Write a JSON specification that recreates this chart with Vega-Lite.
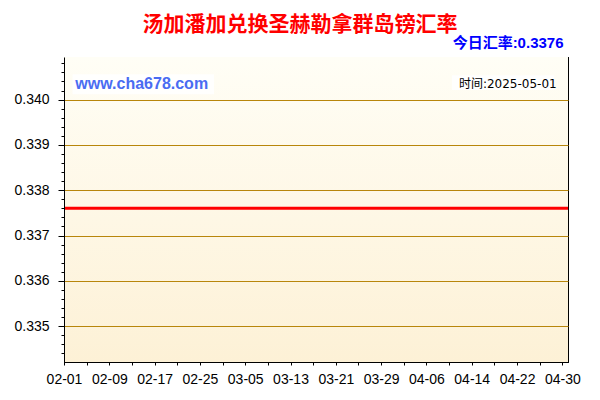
{
  "$schema": "https://vega.github.io/schema/vega-lite/v6.json",
  "width": 504,
  "height": 305,
  "autosize": {"type": "none"},
  "padding": {"left": 64, "top": 57, "right": 32, "bottom": 38},
  "background": "#FFFFFF",
  "title": {
    "text": "汤加潘加兑换圣赫勒拿群岛镑汇率",
    "anchor": "middle",
    "dx": -16,
    "offset": 0,
    "font": "Noto Sans CJK SC",
    "fontSize": 21,
    "fontWeight": "bold",
    "color": "#FF0000"
  },
  "datasets": {
    "frame": [
      {"start": "2025-02-01", "end": "2025-05-01", "low": 0.33421, "high": 0.34094}
    ],
    "boxes": [
      {"start": "2025-02-02T12:00:00Z", "end": "2025-02-27T12:00:00Z", "low": 0.34012, "high": 0.34056},
      {"start": "2025-04-10T12:00:00Z", "end": "2025-04-28T14:00:00Z", "low": 0.34021, "high": 0.34054}
    ],
    "notes": [
      {"kind": "site", "label": "www.cha678.com", "date": "2025-02-03", "value": 0.34034},
      {"kind": "time", "label": "时间:2025-05-01", "date": "2025-04-29", "value": 0.34034}
    ],
    "rate": [
      {"date": "2025-02-01", "rate": 0.3376}, {"date": "2025-02-02", "rate": 0.3376},
      {"date": "2025-02-03", "rate": 0.3376}, {"date": "2025-02-04", "rate": 0.3376},
      {"date": "2025-02-05", "rate": 0.3376}, {"date": "2025-02-06", "rate": 0.3376},
      {"date": "2025-02-07", "rate": 0.3376}, {"date": "2025-02-08", "rate": 0.3376},
      {"date": "2025-02-09", "rate": 0.3376}, {"date": "2025-02-10", "rate": 0.3376},
      {"date": "2025-02-11", "rate": 0.3376}, {"date": "2025-02-12", "rate": 0.3376},
      {"date": "2025-02-13", "rate": 0.3376}, {"date": "2025-02-14", "rate": 0.3376},
      {"date": "2025-02-15", "rate": 0.3376}, {"date": "2025-02-16", "rate": 0.3376},
      {"date": "2025-02-17", "rate": 0.3376}, {"date": "2025-02-18", "rate": 0.3376},
      {"date": "2025-02-19", "rate": 0.3376}, {"date": "2025-02-20", "rate": 0.3376},
      {"date": "2025-02-21", "rate": 0.3376}, {"date": "2025-02-22", "rate": 0.3376},
      {"date": "2025-02-23", "rate": 0.3376}, {"date": "2025-02-24", "rate": 0.3376},
      {"date": "2025-02-25", "rate": 0.3376}, {"date": "2025-02-26", "rate": 0.3376},
      {"date": "2025-02-27", "rate": 0.3376}, {"date": "2025-02-28", "rate": 0.3376},
      {"date": "2025-03-01", "rate": 0.3376}, {"date": "2025-03-02", "rate": 0.3376},
      {"date": "2025-03-03", "rate": 0.3376}, {"date": "2025-03-04", "rate": 0.3376},
      {"date": "2025-03-05", "rate": 0.3376}, {"date": "2025-03-06", "rate": 0.3376},
      {"date": "2025-03-07", "rate": 0.3376}, {"date": "2025-03-08", "rate": 0.3376},
      {"date": "2025-03-09", "rate": 0.3376}, {"date": "2025-03-10", "rate": 0.3376},
      {"date": "2025-03-11", "rate": 0.3376}, {"date": "2025-03-12", "rate": 0.3376},
      {"date": "2025-03-13", "rate": 0.3376}, {"date": "2025-03-14", "rate": 0.3376},
      {"date": "2025-03-15", "rate": 0.3376}, {"date": "2025-03-16", "rate": 0.3376},
      {"date": "2025-03-17", "rate": 0.3376}, {"date": "2025-03-18", "rate": 0.3376},
      {"date": "2025-03-19", "rate": 0.3376}, {"date": "2025-03-20", "rate": 0.3376},
      {"date": "2025-03-21", "rate": 0.3376}, {"date": "2025-03-22", "rate": 0.3376},
      {"date": "2025-03-23", "rate": 0.3376}, {"date": "2025-03-24", "rate": 0.3376},
      {"date": "2025-03-25", "rate": 0.3376}, {"date": "2025-03-26", "rate": 0.3376},
      {"date": "2025-03-27", "rate": 0.3376}, {"date": "2025-03-28", "rate": 0.3376},
      {"date": "2025-03-29", "rate": 0.3376}, {"date": "2025-03-30", "rate": 0.3376},
      {"date": "2025-03-31", "rate": 0.3376}, {"date": "2025-04-01", "rate": 0.3376},
      {"date": "2025-04-02", "rate": 0.3376}, {"date": "2025-04-03", "rate": 0.3376},
      {"date": "2025-04-04", "rate": 0.3376}, {"date": "2025-04-05", "rate": 0.3376},
      {"date": "2025-04-06", "rate": 0.3376}, {"date": "2025-04-07", "rate": 0.3376},
      {"date": "2025-04-08", "rate": 0.3376}, {"date": "2025-04-09", "rate": 0.3376},
      {"date": "2025-04-10", "rate": 0.3376}, {"date": "2025-04-11", "rate": 0.3376},
      {"date": "2025-04-12", "rate": 0.3376}, {"date": "2025-04-13", "rate": 0.3376},
      {"date": "2025-04-14", "rate": 0.3376}, {"date": "2025-04-15", "rate": 0.3376},
      {"date": "2025-04-16", "rate": 0.3376}, {"date": "2025-04-17", "rate": 0.3376},
      {"date": "2025-04-18", "rate": 0.3376}, {"date": "2025-04-19", "rate": 0.3376},
      {"date": "2025-04-20", "rate": 0.3376}, {"date": "2025-04-21", "rate": 0.3376},
      {"date": "2025-04-22", "rate": 0.3376}, {"date": "2025-04-23", "rate": 0.3376},
      {"date": "2025-04-24", "rate": 0.3376}, {"date": "2025-04-25", "rate": 0.3376},
      {"date": "2025-04-26", "rate": 0.3376}, {"date": "2025-04-27", "rate": 0.3376},
      {"date": "2025-04-28", "rate": 0.3376}, {"date": "2025-04-29", "rate": 0.3376},
      {"date": "2025-04-30", "rate": 0.3376}, {"date": "2025-05-01", "rate": 0.3376}
    ]
  },
  "layer": [
    {
      "data": {"name": "frame"},
      "mark": {
        "type": "rect",
        "fill": {
          "gradient": "linear",
          "x1": 0, "y1": 0, "x2": 0, "y2": 1,
          "stops": [
            {"offset": 0, "color": "#FFFEF6"},
            {"offset": 1, "color": "#FDF1D6"}
          ]
        }
      },
      "encoding": {
        "x": {
          "field": "start",
          "type": "temporal",
          "scale": {"type": "utc", "domain": [1738368000000, 1746057600000], "nice": false},
          "axis": {
            "orient": "bottom",
            "values": [1738368000000, 1738713600000, 1739059200000, 1739404800000, 1739750400000, 1740096000000, 1740441600000, 1740787200000, 1741132800000, 1741478400000, 1741824000000, 1742169600000, 1742515200000, 1742860800000, 1743206400000, 1743552000000, 1743897600000, 1744243200000, 1744588800000, 1744934400000, 1745280000000, 1745625600000, 1745971200000],
            "labelExpr": "(datum.value - 1738368000000) % 691200000 === 0 ? utcFormat(datum.value, '%m-%d') : ''",
            "tickSize": 3,
            "labelPadding": 7,
            "labelFlush": false,
            "labelOverlap": false,
            "zindex": 1
          }
        },
        "x2": {"field": "end"},
        "y": {
          "field": "low",
          "type": "quantitative",
          "scale": {"domain": [0.33421, 0.34094], "zero": false, "nice": false},
          "axis": {
            "orient": "left",
            "values": [0.335, 0.336, 0.337, 0.338, 0.339, 0.34],
            "format": ".3f",
            "tickSize": 6,
            "labelPadding": 9,
            "grid": true,
            "gridColor": "#B8860B",
            "gridWidth": 1,
            "gridOpacity": 1,
            "zindex": 1
          }
        },
        "y2": {"field": "high"}
      }
    },
    {
      "data": {"name": "boxes"},
      "mark": {"type": "rect", "fill": "#FFFFFF", "fillOpacity": 0.85},
      "encoding": {
        "x": {
          "field": "start",
          "type": "temporal",
          "scale": {"type": "utc", "domain": [1738368000000, 1746057600000], "nice": false},
          "axis": {"orient": "top", "tickCount": {"interval": "day", "step": 1}, "labels": false, "tickSize": -2, "domain": true}
        },
        "x2": {"field": "end"},
        "y": {
          "field": "low",
          "type": "quantitative",
          "scale": {"domain": [0.33421, 0.34094], "zero": false, "nice": false},
          "axis": {
            "orient": "right",
            "values": [0.3344, 0.3346, 0.3348, 0.335, 0.3352, 0.3354, 0.3356, 0.3358, 0.336, 0.3362, 0.3364, 0.3366, 0.3368, 0.337, 0.3372, 0.3374, 0.3376, 0.3378, 0.338, 0.3382, 0.3384, 0.3386, 0.3388, 0.339, 0.3392, 0.3394, 0.3396, 0.3398, 0.34, 0.3402, 0.3404, 0.3406, 0.3408],
            "labels": false,
            "tickSize": -3,
            "domain": true
          }
        },
        "y2": {"field": "high"}
      }
    },
    {
      "data": {"name": "rate"},
      "mark": {"type": "line", "color": "#FF0000", "strokeWidth": 3, "strokeCap": "butt"},
      "encoding": {
        "x": {
          "field": "date",
          "type": "temporal",
          "scale": {"type": "utc", "domain": [1738368000000, 1746057600000], "nice": false},
          "axis": {"orient": "bottom", "tickCount": {"interval": "day", "step": 1}, "labels": false, "tickSize": -4, "domain": false}
        },
        "y": {
          "field": "rate",
          "type": "quantitative",
          "scale": {"domain": [0.33421, 0.34094], "zero": false, "nice": false},
          "axis": {
            "orient": "left",
            "values": [0.3344, 0.3346, 0.3348, 0.335, 0.3352, 0.3354, 0.3356, 0.3358, 0.336, 0.3362, 0.3364, 0.3366, 0.3368, 0.337, 0.3372, 0.3374, 0.3376, 0.3378, 0.338, 0.3382, 0.3384, 0.3386, 0.3388, 0.339, 0.3392, 0.3394, 0.3396, 0.3398, 0.34, 0.3402, 0.3404, 0.3406, 0.3408],
            "labels": false,
            "tickSize": 3,
            "domain": false
          }
        }
      }
    },
    {
      "data": {"name": "notes"},
      "transform": [{"filter": "datum.kind === 'site'"}],
      "mark": {
        "type": "text",
        "align": "left",
        "baseline": "middle",
        "font": "Liberation Sans",
        "fontSize": 16,
        "fontWeight": "bold",
        "color": "#4A6CF2"
      },
      "encoding": {
        "x": {
          "field": "date",
          "type": "temporal",
          "scale": {"type": "utc", "domain": [1738368000000, 1746057600000], "nice": false},
          "axis": {
            "orient": "top",
            "values": [1738368000000, 1738713600000, 1739059200000, 1739404800000, 1739750400000, 1740096000000, 1740441600000, 1740787200000, 1741132800000, 1741478400000, 1741824000000, 1742169600000, 1742515200000, 1742860800000, 1743206400000, 1743552000000, 1743897600000, 1744243200000, 1744588800000, 1744934400000, 1745280000000, 1745625600000, 1745971200000],
            "labels": false,
            "tickSize": -4,
            "domain": false,
            "title": "今日汇率:0.3376",
            "titleX": 499,
            "titleY": -10,
            "titleAlign": "right",
            "titleBaseline": "alphabetic",
            "titleAngle": 0,
            "titleFont": "Liberation Sans, Noto Sans CJK SC",
            "titleFontSize": 15,
            "titleFontWeight": "bold",
            "titleColor": "#0000FF"
          }
        },
        "y": {
          "field": "value",
          "type": "quantitative",
          "scale": {"domain": [0.33421, 0.34094], "zero": false, "nice": false},
          "axis": {
            "orient": "right",
            "values": [0.335, 0.336, 0.337, 0.338, 0.339, 0.34],
            "labels": false,
            "tickSize": -5,
            "domain": false
          }
        },
        "text": {"field": "label"}
      }
    },
    {
      "data": {"name": "notes"},
      "transform": [{"filter": "datum.kind === 'time'"}],
      "mark": {
        "type": "text",
        "align": "right",
        "baseline": "middle",
        "font": "DejaVu Sans, Noto Sans CJK SC",
        "fontSize": 12,
        "color": "#000000"
      },
      "encoding": {
        "x": {
          "field": "date",
          "type": "temporal",
          "scale": {"type": "utc", "domain": [1738368000000, 1746057600000], "nice": false},
          "axis": null
        },
        "y": {
          "field": "value",
          "type": "quantitative",
          "scale": {"domain": [0.33421, 0.34094], "zero": false, "nice": false},
          "axis": {
            "orient": "left",
            "values": [0.3344, 0.3346, 0.3348, 0.335, 0.3352, 0.3354, 0.3356, 0.3358, 0.336, 0.3362, 0.3364, 0.3366, 0.3368, 0.337, 0.3372, 0.3374, 0.3376, 0.3378, 0.338, 0.3382, 0.3384, 0.3386, 0.3388, 0.339, 0.3392, 0.3394, 0.3396, 0.3398, 0.34, 0.3402, 0.3404, 0.3406, 0.3408],
            "labels": false,
            "tickSize": -3,
            "domain": false
          }
        },
        "text": {"field": "label"}
      }
    }
  ],
  "resolve": {"axis": {"x": "independent", "y": "independent"}},
  "config": {
    "view": {"stroke": "#000000", "strokeWidth": 1},
    "axis": {
      "title": null,
      "zindex": 1,
      "grid": false,
      "domainColor": "#000000",
      "domainWidth": 1,
      "tickColor": "#000000",
      "tickWidth": 1,
      "labelFont": "Liberation Sans",
      "labelFontSize": 14,
      "labelColor": "#000000"
    }
  }
}
